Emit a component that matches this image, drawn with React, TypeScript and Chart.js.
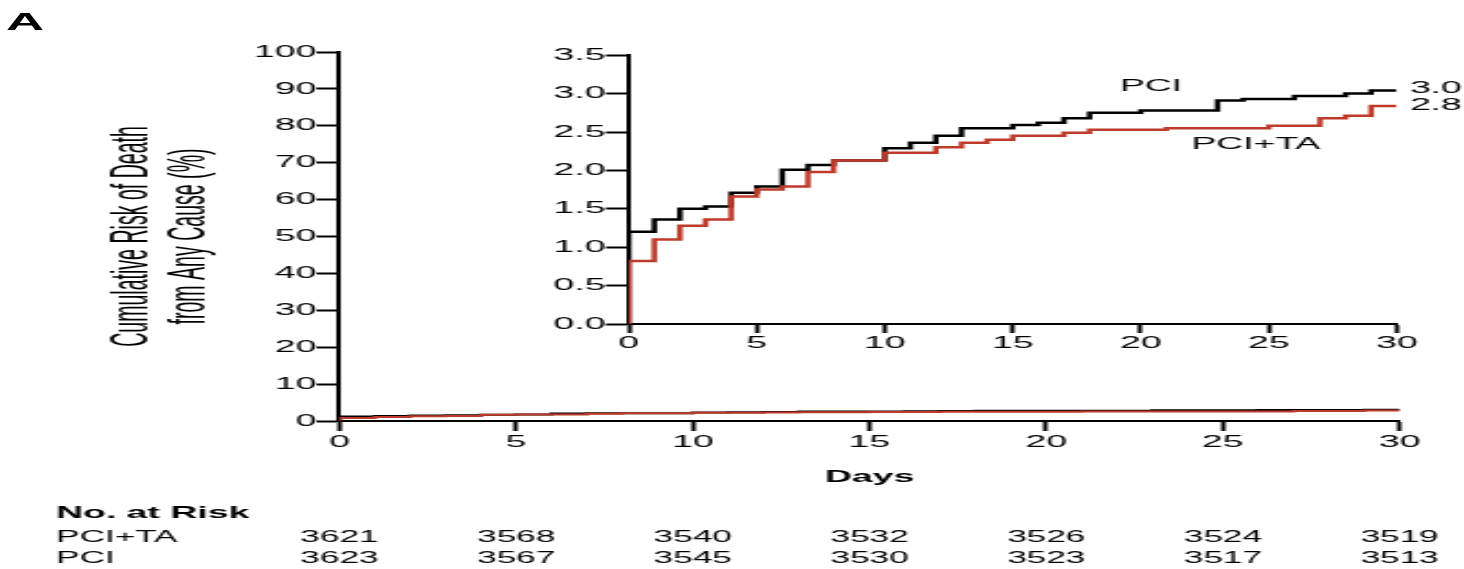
import React, { useEffect, useRef } from 'react';
import { Chart, registerables } from 'chart.js';

Chart.register(...registerables);

// ---- data ----
const pciDays = [0, 0, 1, 2, 3, 4, 5, 6, 7, 8, 10, 11, 12, 13, 15, 16, 17, 18, 20, 23, 24, 26, 28, 29, 30];
const pciRisk = [0, 1.2, 1.36, 1.5, 1.53, 1.71, 1.79, 2.01, 2.07, 2.13, 2.29, 2.36, 2.45, 2.55, 2.59, 2.62, 2.68, 2.75, 2.78, 2.91, 2.93, 2.97, 3.0, 3.04, 3.04];

const taDays = [0, 0, 1, 2, 3, 4, 5, 6, 7, 8, 10, 12, 13, 14, 15, 17, 18, 21, 25, 27, 28, 29, 30];
const taRisk = [0, 0.82, 1.1, 1.28, 1.36, 1.66, 1.75, 1.79, 1.98, 2.13, 2.23, 2.3, 2.36, 2.4, 2.45, 2.49, 2.53, 2.55, 2.58, 2.68, 2.71, 2.84, 2.84];

const riskDays = [0, 5, 10, 15, 20, 25, 30];
const riskTA = [3621, 3568, 3540, 3532, 3526, 3524, 3519];
const riskPCI = [3623, 3567, 3545, 3530, 3523, 3517, 3513];

const groupTA = 'PCI+TA';
const groupPCI = 'PCI';
const yTitle = ['Cumulative Risk of Death', 'from Any Cause (%)'];
const xTitle = 'Days';
const riskHeader = 'No. at Risk';
const panelLabel = 'A';

// inset series label anchors (data coordinates)
const pciLabelAt = { x: 20.4, y: 3.09 };
const taLabelAt = { x: 24.5, y: 2.34 };

// ---- styles ----
const RED = '#BE3A2A';
const BLACK = '#000000';
const FONT = "'Liberation Sans', Arial, sans-serif";
const W = 666;
const H = 569;
const SX = 1464 / W;

const pts = (xs: number[], ys: number[]) => xs.map((x, i) => ({ x, y: ys[i] }));

function axisCommon(tickLength: number, padding: number) {
  return {
    ticks: { color: BLACK, autoSkip: false, maxRotation: 0, padding, font: { family: FONT, size: 17 } },
    grid: { drawOnChartArea: false, drawTicks: true, tickLength, tickWidth: 2, tickColor: BLACK },
    border: { display: true, color: BLACK, width: 2 },
  };
}

export default function App() {
  const mainRef = useRef<HTMLCanvasElement | null>(null);
  const insetRef = useRef<HTMLCanvasElement | null>(null);

  useEffect(() => {
    document.body.style.margin = '0';
    document.body.style.overflow = 'hidden';

    const tablePlugin = {
      id: 'riskTable',
      afterDraw(chart: any) {
        const ctx = chart.ctx;
        const xs = chart.scales.x;
        ctx.save();
        ctx.fillStyle = BLACK;
        ctx.textBaseline = 'middle';
        ctx.textAlign = 'left';
        ctx.font = `bold 17px ${FONT}`;
        ctx.fillText(riskHeader, 25.5, 513);
        ctx.font = `16px ${FONT}`;
        ctx.fillText(groupTA, 25.5, 538);
        ctx.fillText(groupPCI, 25.5, 559);
        ctx.textAlign = 'center';
        riskDays.forEach((d, i) => {
          const px = xs.getPixelForValue(d);
          ctx.fillText(String(riskTA[i]), px, 538);
          ctx.fillText(String(riskPCI[i]), px, 559);
        });
        // condensed, rotated y-axis title
        const ca = chart.chartArea;
        const cy = (ca.top + ca.bottom) / 2;
        const lineX = [60.3, 86];
        ctx.font = `24px ${FONT}`;
        ctx.textAlign = 'center';
        yTitle.forEach((t, i) => {
          ctx.save();
          ctx.translate(lineX[i], cy);
          ctx.rotate(-Math.PI / 2);
          ctx.scale(0.815, 1);
          ctx.fillText(t, 0, 0);
          ctx.restore();
        });
        ctx.restore();
      },
    };

    const insetLabels = {
      id: 'insetLabels',
      afterDraw(chart: any) {
        const ctx = chart.ctx;
        const xs = chart.scales.x;
        const ys = chart.scales.y;
        ctx.save();
        ctx.fillStyle = BLACK;
        ctx.textBaseline = 'middle';
        ctx.font = `17px ${FONT}`;
        ctx.textAlign = 'center';
        ctx.fillText(groupPCI, xs.getPixelForValue(pciLabelAt.x), ys.getPixelForValue(pciLabelAt.y));
        ctx.fillText(groupTA, xs.getPixelForValue(taLabelAt.x), ys.getPixelForValue(taLabelAt.y));
        ctx.textAlign = 'left';
        const endX = chart.chartArea.right + 6;
        const pEnd = pciRisk[pciRisk.length - 1];
        const tEnd = taRisk[taRisk.length - 1];
        ctx.fillText(pEnd.toFixed(1), endX, ys.getPixelForValue(pEnd) - 2);
        ctx.fillText(tEnd.toFixed(1), endX, ys.getPixelForValue(tEnd) - 1);
        ctx.restore();
      },
    };

    const datasets = (lw: number) => [
      { label: groupTA, data: pts(taDays, taRisk), borderColor: RED, backgroundColor: RED, borderWidth: lw, stepped: true, pointRadius: 0, fill: false },
      { label: groupPCI, data: pts(pciDays, pciRisk), borderColor: BLACK, backgroundColor: BLACK, borderWidth: lw, stepped: true, pointRadius: 0, fill: false },
    ];

    const mx = axisCommon(10, 1);
    const my = axisCommon(10.5, 0);
    const main = new Chart(mainRef.current as HTMLCanvasElement, {
      type: 'line',
      data: { datasets: datasets(2) as any },
      options: {
        animation: false,
        responsive: true,
        maintainAspectRatio: false,
        layout: { padding: { top: 52, right: 29.3, bottom: 69, left: 0 } },
        plugins: { legend: { display: false }, tooltip: { enabled: false } },
        scales: {
          x: {
            type: 'linear', min: 0, max: 30,
            ...mx,
            ticks: { ...mx.ticks, stepSize: 5 },
            title: { display: true, text: xTitle, color: BLACK, font: { family: FONT, size: 17, weight: 'bold' }, padding: { top: 0, bottom: 12.8 } },
            afterFit: (s: any) => { s.height = 79; },
          },
          y: {
            type: 'linear', min: 0, max: 100,
            ...my,
            ticks: { ...my.ticks, stepSize: 10 },
            title: { display: false },
            afterFit: (s: any) => { s.width = 154.4; },
          },
        },
      } as any,
      plugins: [tablePlugin],
    });

    const ix = axisCommon(9, 0);
    const iy = axisCommon(10.5, 0);
    const inset = new Chart(insetRef.current as HTMLCanvasElement, {
      type: 'line',
      data: { datasets: datasets(2.5) as any },
      options: {
        animation: false,
        responsive: true,
        maintainAspectRatio: false,
        layout: { padding: { top: 10, right: 30.9, bottom: 0, left: 0 } },
        plugins: { legend: { display: false }, tooltip: { enabled: false } },
        scales: {
          x: {
            type: 'linear', min: 0, max: 30,
            ...ix,
            ticks: { ...ix.ticks, stepSize: 5 },
            afterFit: (s: any) => { s.height = 32; },
          },
          y: {
            type: 'linear', min: 0, max: 3.5,
            ...iy,
            ticks: { ...iy.ticks, stepSize: 0.5, callback: (v: any) => Number(v).toFixed(1) },
            afterFit: (s: any) => { s.width = 45; },
          },
        },
      } as any,
      plugins: [insetLabels],
    });

    return () => {
      main.destroy();
      inset.destroy();
    };
  }, []);

  return (
    <div
      style={{
        position: 'fixed', left: 0, top: 0, width: W, height: H,
        transform: `scaleX(${SX})`, transformOrigin: '0 0', background: '#fff',
      }}
    >
      <div style={{ position: 'absolute', left: 0, top: 0, width: W, height: H }}>
        <canvas ref={mainRef} />
      </div>
      <div style={{ position: 'absolute', left: 240.7, top: 45, width: 425.3, height: 311 }}>
        <canvas ref={insetRef} />
      </div>
      <div
        style={{
          position: 'absolute', left: 2.7, top: 10, fontFamily: FONT, fontWeight: 'bold',
          fontSize: 24, lineHeight: '24px', color: BLACK,
        }}
      >
        {panelLabel}
      </div>
    </div>
  );
}
